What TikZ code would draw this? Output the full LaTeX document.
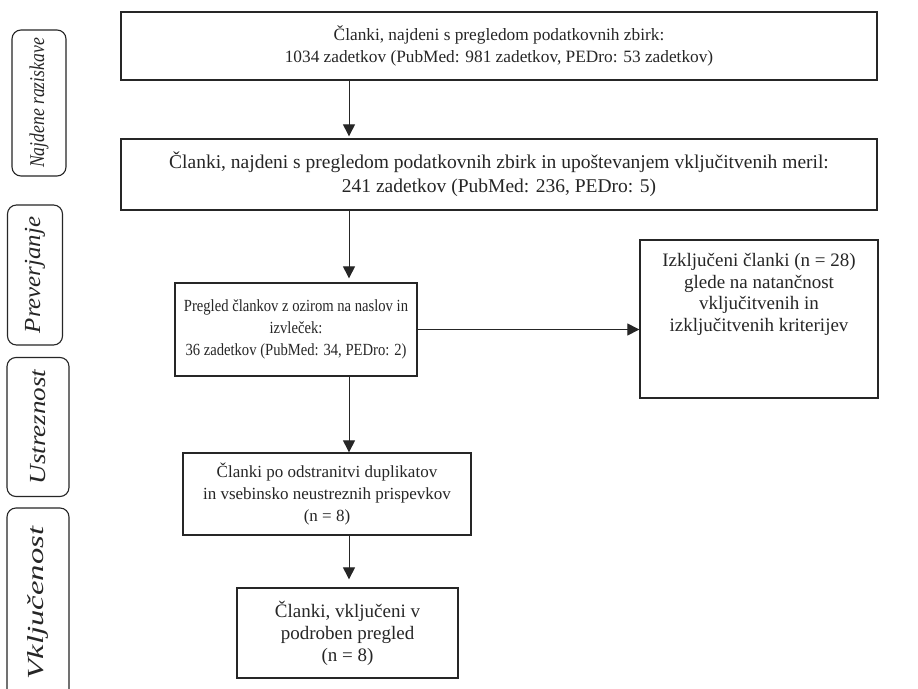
\documentclass[tikz,border=0pt]{standalone}
\usepackage{fontspec}
\setmainfont{Liberation Serif}
\newfontfamily\condfont[FakeStretch=0.86]{Liberation Serif}
\newfontfamily\lblA[FakeStretch=0.84]{Liberation Serif}
\newfontfamily\lblB[FakeStretch=1.08]{Liberation Serif}
\newfontfamily\lblC[FakeStretch=1.18]{Liberation Serif}
\newfontfamily\lblD[FakeStretch=1.42]{Liberation Serif}
\usetikzlibrary{arrows.meta,positioning,calc}
\tikzset{
  box/.style={draw=black!85, line width=1.3pt, rectangle, align=center, inner sep=2pt,
    text=black!85},
  lbl/.style={draw=black!85, line width=1.1pt, rounded corners=9pt, rectangle, rotate=90,
    text=black!85, inner sep=0pt},
  arr/.style={draw=black!85, line width=1pt, -{Triangle[length=12pt,width=12pt]}},
}
\begin{document}
\begin{tikzpicture}[x=1pt,y=-1pt]
\useasboundingbox[fill=white] (0,0) rectangle (918,688);
% side labels
\node[lbl, minimum width=146pt, minimum height=54pt, font=\lblA\itshape\fontsize{21}{24}\selectfont] (l1) at (39,103) {Najdene raziskave};
\node[lbl, minimum width=140pt, minimum height=55pt, font=\lblB\itshape\fontsize{23}{25}\selectfont] (l2) at (35,275) {Preverjanje};
\node[lbl, minimum width=139pt, minimum height=62pt, font=\lblC\itshape\fontsize{23}{25}\selectfont] (l3) at (38,427) {Ustreznost};
\node[lbl, minimum width=190pt, minimum height=62pt, font=\lblD\itshape\fontsize{23}{25}\selectfont] (l4) at (38,603) {Vključenost};
% main boxes
\node[box, minimum width=756pt, minimum height=68pt, font=\fontsize{17.3}{22}\selectfont] (b1) at (499,46)
  {Članki, najdeni s pregledom podatkovnih zbirk:\\1034 zadetkov (PubMed: 981 zadetkov, PEDro: 53 zadetkov)};
\node[box, minimum width=756pt, minimum height=71pt, font=\fontsize{19.5}{24}\selectfont] (b2) at (499,174.5)
  {Članki, najdeni s pregledom podatkovnih zbirk in upoštevanjem vključitvenih meril:\\241 zadetkov (PubMed: 236, PEDro: 5)};
\node[box, minimum width=242pt, minimum height=93pt, font=\condfont\fontsize{17}{22}\selectfont] (b3) at (296,329.5)
  {Pregled člankov z ozirom na naslov in\\izvleček:\\36 zadetkov (PubMed: 34, PEDro: 2)};
\node[box, minimum width=238pt, minimum height=158pt] (ex) at (759,319) {};
\node[anchor=north, align=center, font=\fontsize{19}{21.5}\selectfont, text=black!85, inner sep=0pt]
  (ext) at ([yshift=-14pt]ex.north)
  {Izključeni članki (n = 28)\\glede na natančnost\\vključitvenih in\\izključitvenih kriterijev};
\node[box, minimum width=288pt, minimum height=82pt, font=\fontsize{17}{22}\selectfont] (b4) at (327,494)
  {Članki po odstranitvi duplikatov\\in vsebinsko neustreznih prispevkov\\(n = 8)};
\node[box, minimum width=221pt, minimum height=90pt, font=\fontsize{19}{22}\selectfont] (b5) at (347.5,633)
  {Članki, vključeni v\\podroben pregled\\(n = 8)};
% arrows
\coordinate (ax) at (349,0);
\draw[arr, shorten >=2pt] (b1.south -| ax) -- (b2.north -| ax);
\draw[arr, shorten >=4pt] (b2.south -| ax) -- (b3.north -| ax);
\draw[arr] (b3.south -| ax) -- (b4.north -| ax);
\draw[arr, shorten >=8pt] (b4.south -| ax) -- (b5.north -| ax);
\draw[arr] (b3.east) -- (b3.east -| ex.west);
\end{tikzpicture}
\end{document}
